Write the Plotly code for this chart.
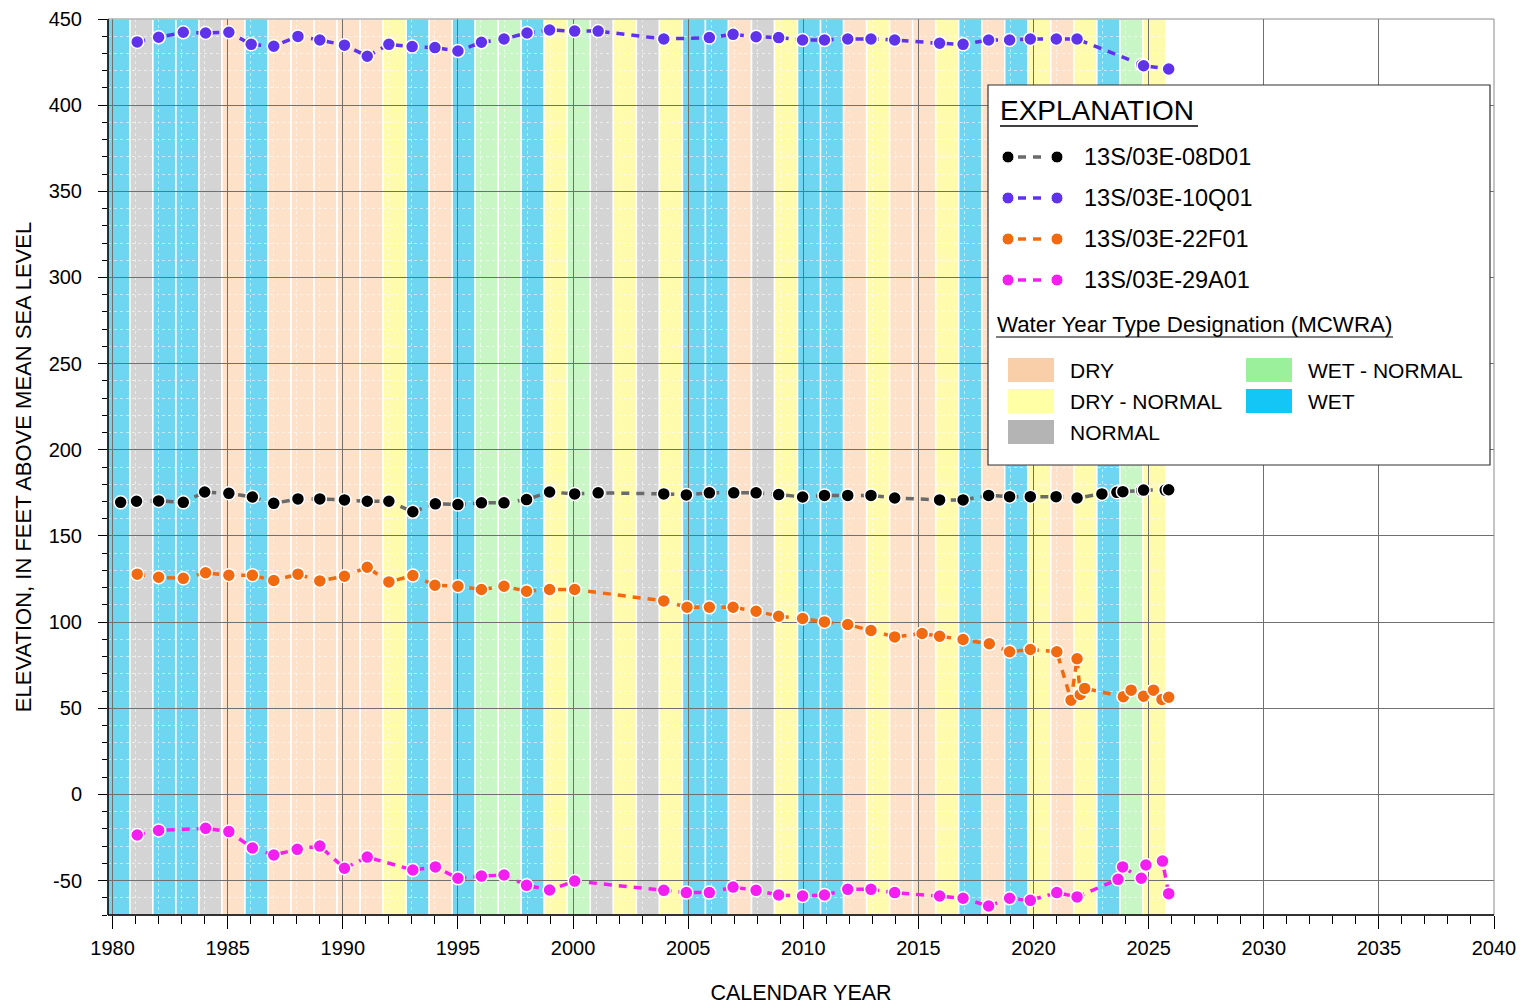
import plotly.graph_objects as go

# ---------------------------------------------------------------------------
# Water-year type designation (MCWRA), water years 1980-2025
# ---------------------------------------------------------------------------
water_years = list(range(1980, 2026))
water_year_types = [
    "WET", "NORMAL", "WET", "WET", "NORMAL", "DRY", "WET", "DRY", "DRY", "DRY",
    "DRY", "DRY", "DRY - NORMAL", "WET", "DRY", "WET", "WET - NORMAL", "WET - NORMAL",
    "WET", "DRY - NORMAL", "WET - NORMAL", "NORMAL", "DRY - NORMAL", "NORMAL",
    "DRY - NORMAL", "WET", "WET", "DRY", "NORMAL", "DRY - NORMAL", "WET", "WET",
    "DRY", "DRY - NORMAL", "DRY", "DRY", "DRY - NORMAL", "WET", "DRY", "WET",
    "DRY - NORMAL", "DRY", "DRY - NORMAL", "WET", "WET - NORMAL", "DRY - NORMAL",
]

# ---------------------------------------------------------------------------
# Groundwater elevations (feet above mean sea level)
# ---------------------------------------------------------------------------
well_08d01_year = [1980.35, 1981.04, 1982.0, 1983.07, 1984.0, 1985.05, 1986.07, 1987.0, 1988.05,
                   1989.0, 1990.07, 1991.06, 1992.0, 1993.04, 1994.02, 1995.0, 1996.02, 1997.0,
                   1997.98, 1998.98, 2000.07, 2001.09, 2003.94, 2004.92, 2005.92, 2006.98,
                   2007.95, 2008.93, 2009.97, 2010.92, 2011.93, 2012.94, 2013.97, 2015.92,
                   2016.94, 2018.05, 2018.96, 2019.86, 2020.98, 2021.89, 2022.97, 2023.62,
                   2023.88, 2024.7, 2024.78, 2025.72, 2025.87]
well_08d01_elev = [169.5, 170.1, 170.3, 169.5, 175.5, 174.7, 172.6, 168.9, 171.5, 171.5, 170.9,
                   170.1, 170.1, 164.0, 168.6, 168.2, 169.2, 169.2, 171.1, 175.5, 174.4, 175.0,
                   174.4, 173.8, 175.0, 175.0, 175.0, 174.0, 172.6, 173.5, 173.5, 173.5, 172.0,
                   170.9, 170.9, 173.5, 172.8, 172.8, 172.8, 172.0, 174.4, 175.3, 175.7, 176.3,
                   176.6, 176.6, 176.8]

well_10q01_year = [1981.07, 1982.0, 1983.07, 1984.04, 1985.05, 1986.02, 1987.0, 1988.05, 1989.0,
                   1990.07, 1991.06, 1992.0, 1993.01, 1994.0, 1995.0, 1996.02, 1997.0, 1998.0,
                   1998.98, 2000.07, 2001.09, 2003.94, 2005.92, 2006.95, 2007.95, 2008.93,
                   2009.97, 2010.92, 2011.93, 2012.94, 2013.97, 2015.92, 2016.94, 2018.05,
                   2018.96, 2019.86, 2020.99, 2021.89, 2024.7, 2024.78, 2025.87]
well_10q01_elev = [436.7, 439.4, 442.3, 441.9, 442.3, 435.3, 434.2, 439.9, 437.8, 434.8, 428.4,
                   435.3, 434.0, 433.4, 431.4, 436.5, 438.4, 441.9, 443.6, 443.0, 443.0, 438.4,
                   439.2, 441.1, 439.7, 439.2, 437.8, 437.8, 438.4, 438.4, 437.8, 435.9, 435.3,
                   437.8, 437.8, 438.4, 438.4, 438.4, 423.5, 422.9, 421.0]

well_22f01_year = [1981.07, 1982.0, 1983.07, 1984.04, 1985.05, 1986.07, 1987.0, 1988.05, 1989.0,
                   1990.07, 1991.06, 1992.0, 1993.04, 1994.0, 1995.0, 1996.02, 1997.0, 1997.98,
                   1998.98, 2000.07, 2003.94, 2004.95, 2005.92, 2006.95, 2007.95, 2008.93,
                   2009.97, 2010.92, 2011.93, 2012.94, 2013.97, 2015.16, 2015.92, 2016.94,
                   2018.08, 2018.96, 2019.86, 2021.01, 2021.63, 2021.89, 2022.03, 2022.22,
                   2023.9, 2024.24, 2024.78, 2025.21, 2025.58, 2025.87]
well_22f01_elev = [127.8, 126.0, 125.4, 128.6, 127.2, 127.2, 124.1, 127.8, 123.9, 126.6, 131.8,
                   123.3, 127.0, 121.4, 120.8, 118.9, 120.8, 117.9, 118.9, 118.9, 112.3, 108.6,
                   108.6, 108.6, 106.3, 103.4, 102.1, 100.1, 98.6, 95.1, 91.4, 93.4, 91.8, 89.9,
                   87.4, 82.8, 84.1, 82.8, 54.7, 78.7, 58.0, 61.5, 56.7, 60.5, 57.0, 60.5, 55.1,
                   56.4]

well_29a01_year = [1981.07, 1982.0, 1984.04, 1985.05, 1986.07, 1987.0, 1988.02, 1989.0, 1990.07,
                   1991.06, 1993.04, 1994.02, 1995.0, 1996.02, 1997.0, 1997.98, 1998.98, 2000.07,
                   2003.94, 2004.92, 2005.92, 2006.95, 2007.95, 2008.93, 2009.97, 2010.92,
                   2011.93, 2012.94, 2013.97, 2015.92, 2016.94, 2018.05, 2018.96, 2019.86,
                   2021.01, 2021.89, 2023.67, 2023.87, 2024.68, 2024.88, 2025.6, 2025.87]
well_29a01_elev = [-23.6, -20.9, -19.7, -21.6, -31.1, -35.2, -31.9, -30.0, -42.9, -36.4, -43.9,
                   -42.1, -48.7, -47.4, -46.8, -52.8, -55.5, -50.3, -55.7, -57.0, -57.0, -53.8,
                   -55.7, -58.4, -59.0, -58.4, -55.1, -55.1, -57.0, -59.0, -60.3, -64.8, -60.3,
                   -61.5, -57.0, -59.5, -49.3, -42.1, -48.7, -41.0, -38.7, -57.6]

well_names = ["13S/03E-08D01", "13S/03E-10Q01", "13S/03E-22F01", "13S/03E-29A01"]
year_ticks = list(range(1980, 2041, 5))
year_tick_labels = [str(v) for v in year_ticks]
elev_ticks = list(range(-50, 451, 50))
elev_tick_labels = [str(v) for v in elev_ticks]   # plain hyphen-minus for negatives

# ---------------------------------------------------------------------------
# Styling
# ---------------------------------------------------------------------------
FONT = "Liberation Sans, Arial, sans-serif"
band_fill = {
    "DRY": "#fde1c9",
    "DRY - NORMAL": "#fffbad",
    "NORMAL": "#d4d4d4",
    "WET - NORMAL": "#c8f7c5",
    "WET": "#6fd6f2",
}
swatch_fill = {
    "DRY": "#f9cfaa",
    "DRY - NORMAL": "#ffffa6",
    "NORMAL": "#b4b4b4",
    "WET - NORMAL": "#9bf09b",
    "WET": "#13c6f5",
}
marker_color = ["#000000", "#5f33ec", "#f26a10", "#f51ef0"]
line_color = ["#6a6a6a", "#5f33ec", "#f26a10", "#f51ef0"]

series = [
    (well_08d01_year, well_08d01_elev),
    (well_10q01_year, well_10q01_elev),
    (well_22f01_year, well_22f01_elev),
    (well_29a01_year, well_29a01_elev),
]

X0, X1 = 1979.8, 2040.0
Y0, Y1 = -70.0, 450.0

# plot area in pixels (for placing the explanation box)
L, R, T, B = 108, 1494, 19, 915
W_PX, H_PX = R - L, B - T


def px(x):
    return (x - L) / W_PX


def py(y):
    return (B - y) / H_PX


fig = go.Figure()

for (xs, ys), name, mc, lc in zip(series, well_names, marker_color, line_color):
    fig.add_trace(go.Scatter(
        x=xs, y=ys, name=name, mode="lines+markers",
        line=dict(color=lc, width=3.5, dash="8px,7px"),
        marker=dict(color=mc, size=13, line=dict(color="white", width=1.5)),
        showlegend=False,
    ))

shapes = []

# water-year bands: October 1 of prior year through September 30
for wy, kind in zip(water_years, water_year_types):
    shapes.append(dict(
        type="rect", xref="x", yref="y", layer="below",
        x0=wy - 0.25, x1=wy + 0.75, y0=Y0, y1=Y1,
        fillcolor=band_fill[kind], line=dict(color="white", width=1.5),
    ))

# plot frame (top / right in grid grey)
shapes.append(dict(type="rect", xref="paper", yref="paper", x0=0, x1=1, y0=0, y1=1,
                   line=dict(color="#8a8a8a", width=1), layer="above"))
shapes.append(dict(type="line", xref="paper", yref="paper", x0=0, x1=0, y0=0, y1=1,
                   line=dict(color="black", width=1.5), layer="above"))
shapes.append(dict(type="line", xref="paper", yref="paper", x0=0, x1=1, y0=0, y1=0,
                   line=dict(color="black", width=1.5), layer="above"))

# explanation box
shapes.append(dict(type="rect", xref="paper", yref="paper",
                   x0=px(988), x1=px(1490), y0=py(465), y1=py(85),
                   fillcolor="white", line=dict(color="#333333", width=1.2), layer="above"))
shapes.append(dict(type="line", xref="paper", yref="paper",
                   x0=px(1000), x1=px(1198), y0=py(126), y1=py(126),
                   line=dict(color="black", width=1.5), layer="above"))
shapes.append(dict(type="line", xref="paper", yref="paper",
                   x0=px(996), x1=px(1393), y0=py(337), y1=py(337),
                   line=dict(color="black", width=1.2), layer="above"))

annotations = [
    dict(text="EXPLANATION", x=px(998), y=py(110), xref="paper", yref="paper",
         xanchor="left", yanchor="middle", showarrow=False,
         font=dict(family=FONT, size=28, color="black")),
    dict(text="Water Year Type Designation (MCWRA)", x=px(995), y=py(324),
         xref="paper", yref="paper", xanchor="left", yanchor="middle", showarrow=False,
         font=dict(family=FONT, size=22.3, color="black")),
]

# well legend rows
r_px = 6.0
for i, (name, mc, lc) in enumerate(zip(well_names, marker_color, line_color)):
    yc = 157 + i * 41
    for xd in (1022, 1037):
        shapes.append(dict(type="line", xref="paper", yref="paper",
                           x0=px(xd - 4), x1=px(xd + 4), y0=py(yc), y1=py(yc),
                           line=dict(color=lc, width=3.5), layer="above"))
    for xm in (1008, 1057):
        shapes.append(dict(type="circle", xref="paper", yref="paper",
                           x0=px(xm - r_px), x1=px(xm + r_px),
                           y0=py(yc + r_px), y1=py(yc - r_px),
                           fillcolor=mc, line=dict(color="white", width=1), layer="above"))
    annotations.append(dict(text=name, x=px(1082), y=py(yc), xref="paper", yref="paper",
                            xanchor="left", yanchor="middle", showarrow=False,
                            font=dict(family=FONT, size=23.5, color="black")))

# water-year type swatches
swatch_layout = [
    ("DRY", 1008, 370), ("DRY - NORMAL", 1008, 401), ("NORMAL", 1008, 432),
    ("WET - NORMAL", 1246, 370), ("WET", 1246, 401),
]
for kind, sx, sy in swatch_layout:
    shapes.append(dict(type="rect", xref="paper", yref="paper",
                       x0=px(sx), x1=px(sx + 46), y0=py(sy + 12), y1=py(sy - 12),
                       fillcolor=swatch_fill[kind], line=dict(width=0), layer="above"))
    annotations.append(dict(text=kind, x=px(sx + 60), y=py(sy), xref="paper", yref="paper",
                            xanchor="left", yanchor="middle", showarrow=False,
                            font=dict(family=FONT, size=21, color="black")))

fig.update_layout(
    width=1526, height=1006,
    margin=dict(l=L, r=1526 - R, t=T, b=1006 - B),
    paper_bgcolor="white", plot_bgcolor="white",
    font=dict(family=FONT, size=20, color="black"),
    shapes=shapes, annotations=annotations,
    showlegend=False,
)

fig.update_xaxes(
    range=[X0, X1], tickvals=year_ticks, ticktext=year_tick_labels,
    ticks="outside", ticklen=13, tickwidth=1.2, automargin=False,
    tickcolor="black", showgrid=True, gridcolor="#707070", gridwidth=1,
    zeroline=False, showline=False, ticklabelstandoff=2,
    tickfont=dict(family=FONT, size=20),
    title=dict(text="CALENDAR YEAR", font=dict(family=FONT, size=21.5), standoff=26),
    minor=dict(dtick=1, tick0=1980, ticks="outside", ticklen=8, tickcolor="black",
               showgrid=True, gridcolor="rgba(255,255,255,0.55)", griddash="dot", gridwidth=1),
)
fig.update_yaxes(
    range=[Y0, Y1], tickvals=elev_ticks, ticktext=elev_tick_labels,
    ticks="outside", ticklen=9, tickwidth=1.2, automargin=False,
    tickcolor="black", showgrid=True, gridcolor="#707070", gridwidth=1,
    zeroline=False, showline=False, ticklabelstandoff=12,
    tickfont=dict(family=FONT, size=20),
    title=dict(text="ELEVATION, IN FEET ABOVE MEAN SEA LEVEL", font=dict(family=FONT, size=22),
               standoff=10),
    minor=dict(dtick=10, tick0=0, ticks="outside", ticklen=5, tickcolor="black",
               showgrid=True, gridcolor="rgba(255,255,255,0.55)", griddash="dot", gridwidth=1),
)

fig.write_html("out.html")
